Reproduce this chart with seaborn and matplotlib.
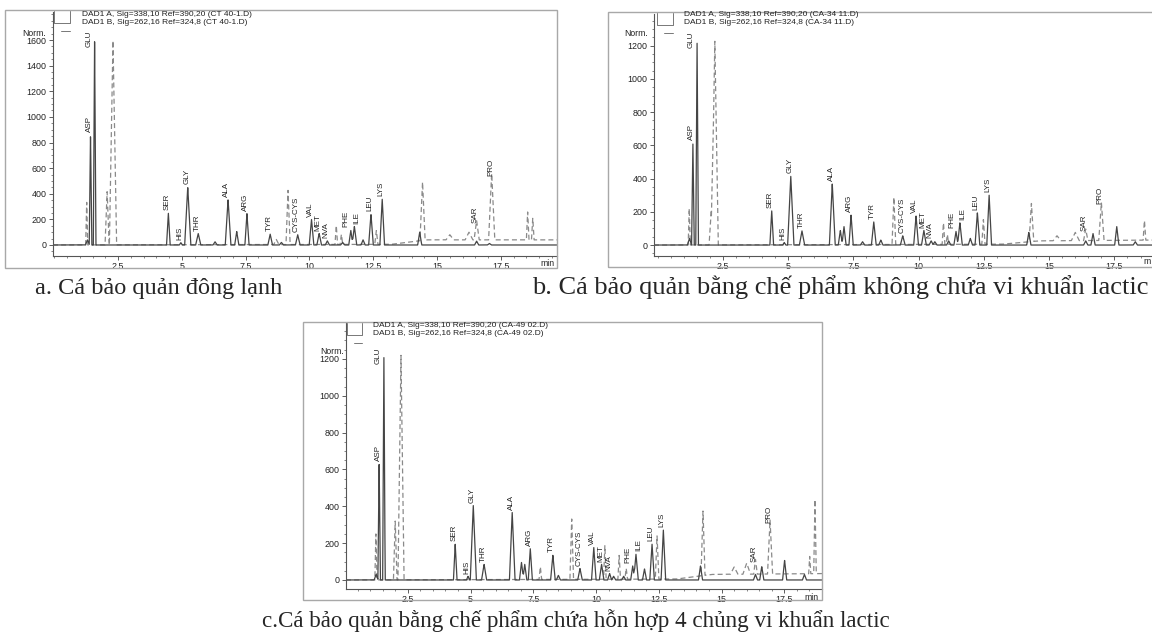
import numpy as np
import pandas as pd
import matplotlib
matplotlib.use("Agg")
import matplotlib.pyplot as plt
import seaborn as sns
from matplotlib.ticker import MultipleLocator
from matplotlib.patches import Rectangle
from matplotlib.lines import Line2D

# ---------------- data ----------------
AMINO = ["ASP", "GLU", "SER", "HIS", "GLY", "THR", "ALA", "ARG", "TYR",
         "CYS-CYS", "VAL", "MET", "NVA", "PHE", "ILE", "LEU", "LYS"]
AMINO_B = ["SAR", "PRO"]
AMINO_W = [0.05, 0.05, 0.07, 0.06, 0.12, 0.10, 0.11, 0.08, 0.09,
           0.09, 0.09, 0.09, 0.08, 0.08, 0.09, 0.09, 0.09]

X_TICKS = [2.5, 5, 7.5, 10, 12.5, 15, 17.5]
X_TICK_LABELS = ["2.5", "5", "7.5", "10", "12.5", "15", "17.5"]

# panel a  (CT 40-1.D)
a_rt = [1.42, 1.58, 4.47, 4.96, 5.23, 5.64, 6.81, 7.55, 8.46, 9.54, 10.08, 10.38, 10.70, 11.62, 11.76, 12.41, 12.85]
a_h = [860, 1600, 250, 18, 452, 90, 355, 245, 85, 80, 200, 90, 32, 115, 145, 240, 360]
a_other_rt = [1.30, 6.30, 7.15, 8.90, 11.30, 12.10, 14.32, 16.55, 17.05]
a_other_h = [40, 25, 105, 20, 20, 40, 100, 30, 12]
a_B_rt = [1.27, 2.07, 2.30, 8.70, 9.16, 11.05, 11.25, 12.62, 14.43, 15.50, 16.25, 16.55, 17.14, 18.55, 18.75]
a_B_h = [340, 420, 1600, 40, 425, 150, 80, 110, 460, 40, 60, 150, 520, 220, 170]
a_B_w = [0.04, 0.08, 0.14, 0.10, 0.08, 0.05, 0.05, 0.06, 0.10, 0.15, 0.15, 0.10, 0.12, 0.05, 0.05]
a_B_lab = [11, 12]
a_B_base_t = [0, 13.2, 14.6, 19.8]
a_B_base_y = [0, 5, 40, 40]
a_yticks = [0, 200, 400, 600, 800, 1000, 1200, 1400, 1600]

# panel b  (CA-34 11.D)
b_rt = [1.35, 1.51, 4.37, 4.85, 5.10, 5.53, 6.69, 7.41, 8.28, 9.39, 9.90, 10.20, 10.48, 11.43, 11.58, 12.25, 12.70]
b_h = [618, 1230, 207, 15, 415, 85, 370, 181, 139, 56, 175, 88, 25, 83, 135, 195, 300]
b_other_rt = [1.22, 7.00, 7.14, 7.85, 8.55, 10.62, 11.15, 11.98, 14.22, 16.40, 16.68, 17.59, 18.30]
b_other_h = [40, 88, 111, 20, 30, 20, 25, 40, 76, 25, 70, 111, 20]
b_B_rt = [1.21, 2.05, 2.19, 9.05, 10.95, 11.10, 12.48, 14.32, 15.30, 16.00, 16.40, 17.00, 18.65]
b_B_h = [220, 200, 1230, 286, 131, 60, 150, 230, 30, 50, 70, 230, 120]
b_B_w = [0.04, 0.08, 0.13, 0.07, 0.05, 0.05, 0.06, 0.09, 0.15, 0.15, 0.08, 0.10, 0.05]
b_B_lab = [10, 11]
b_B_base_t = [0, 13.2, 14.6, 19.0]
b_B_base_y = [0, 5, 25, 30]
b_yticks = [0, 200, 400, 600, 800, 1000, 1200]

# panel c  (CA-49 02.D)
c_rt = [1.36, 1.55, 4.39, 4.90, 5.11, 5.54, 6.66, 7.38, 8.28, 9.36, 9.91, 10.22, 10.54, 11.46, 11.59, 12.23, 12.68]
c_h = [630, 1210, 195, 20, 404, 85, 367, 171, 135, 62, 176, 85, 35, 76, 140, 195, 273]
c_other_rt = [1.24, 7.03, 7.16, 8.50, 10.70, 11.10, 11.93, 14.16, 16.35, 16.60, 17.51, 18.30]
c_other_h = [30, 95, 85, 25, 20, 20, 60, 76, 30, 73, 107, 30]
c_B_rt = [1.23, 2.00, 2.23, 7.78, 9.03, 10.35, 10.92, 11.20, 12.43, 14.26, 15.50, 16.00, 16.35, 16.93, 18.51, 18.72]
c_B_h = [250, 320, 1220, 70, 330, 185, 130, 60, 236, 353, 40, 60, 80, 295, 95, 404]
c_B_w = [0.04, 0.07, 0.12, 0.05, 0.07, 0.05, 0.05, 0.05, 0.07, 0.08, 0.15, 0.15, 0.07, 0.10, 0.04, 0.05]
c_B_lab = [12, 13]
c_B_base_t = [0, 13.2, 14.6, 19.3]
c_B_base_y = [0, 5, 30, 35]
c_yticks = [0, 200, 400, 600, 800, 1000, 1200]

FILES = ["CT 40-1.D", "CA-34 11.D", "CA-49 02.D"]
CAPTIONS = ["a. Cá bảo quản đông lạnh",
            "b. Cá bảo quản bằng chế phẩm không chứa vi khuẩn lactic",
            "c.Cá bảo quản bằng chế phẩm chứa hỗn hợp 4 chủng vi khuẩn lactic"]

# ---------------- style ----------------
sns.set_style("ticks")
plt.rcParams["font.family"] = ["Liberation Sans", "DejaVu Sans"]

W, H = 1152, 636
fig = plt.figure(figsize=(W / 100, H / 100), dpi=100)


def fx(x):
    return x / W


def fy(y):
    return 1 - y / H


def trace(t, rts, hs, ws, bt, by):
    y = np.interp(t, bt, by)
    for r, h, w in zip(rts, hs, ws):
        y = y + h * np.clip(1 - np.abs(t - r) / w, 0, None)
    return y


panels = [
    dict(frame=(5, 10, 557, 268), axes=(53, 12, 557, 256), xlim=(-0.05, 19.7), ylim=(-86, 1819),
         rt=a_rt, h=a_h, ort=a_other_rt, oh=a_other_h, brt=a_B_rt, bh=a_B_h, bw=a_B_w, blab=a_B_lab,
         bbt=a_B_base_t, bby=a_B_base_y, yt=a_yticks, file=FILES[0],
         norm=(22, 33), legx=82, legy=(15, 23), box=(54, 11, 70, 23), mint="min", minx=540, miny=263),
    dict(frame=(608, 12, 1160, 267), axes=(654, 14, 1152, 256), xlim=(-0.14, 18.94), ylim=(-66, 1391),
         rt=b_rt, h=b_h, ort=b_other_rt, oh=b_other_h, brt=b_B_rt, bh=b_B_h, bw=b_B_w, blab=b_B_lab,
         bbt=b_B_base_t, bby=b_B_base_y, yt=b_yticks, file=FILES[1],
         norm=(624, 34), legx=684, legy=(15, 23), box=(657, 13, 673, 25), mint="m", minx=1143, miny=262),
    dict(frame=(303, 322, 822, 600), axes=(346, 323, 822, 589), xlim=(0.04, 19.0), ylim=(-49, 1395),
         rt=c_rt, h=c_h, ort=c_other_rt, oh=c_other_h, brt=c_B_rt, bh=c_B_h, bw=c_B_w, blab=c_B_lab,
         bbt=c_B_base_t, bby=c_B_base_y, yt=c_yticks, file=FILES[2],
         norm=(320, 352), legx=373, legy=(325, 333), box=(347, 323, 362, 335), mint="min", minx=804, miny=597),
]

LABEL_FS = 5.8
LABEL_OFFSET = {"GLU": (-4, -5), "PHE": (-3.2, 2), "ILE": (2.0, 2)}

for p in panels:
    x0, y0, x1, y1 = p["frame"]
    fig.add_artist(Rectangle((fx(x0), fy(y1)), fx(x1 - x0), (y1 - y0) / H,
                             transform=fig.transFigure, fill=False, ec="#a8a8a8", lw=1.0))
    l, t, r, b = p["axes"]
    ax = fig.add_axes([fx(l), fy(b), fx(r - l), (b - t) / H])
    ax.patch.set_alpha(0)

    tg = np.linspace(p["xlim"][0], p["xlim"][1], 8000)
    a_rts = list(p["rt"]) + list(p["ort"])
    a_hs = list(p["h"]) + list(p["oh"])
    a_ws = AMINO_W + [0.08] * len(p["ort"])
    yA = trace(tg, a_rts, a_hs, a_ws, [0, 20], [0, 0])
    yB = trace(tg, p["brt"], p["bh"], p["bw"], p["bbt"], p["bby"])
    n = len(tg)
    df = pd.DataFrame({"t": np.concatenate([tg, tg]),
                       "signal": np.concatenate([yB, yA]),
                       "channel": ["B"] * n + ["A"] * n})
    sns.lineplot(data=df, x="t", y="signal", hue="channel", style="channel",
                 hue_order=["B", "A"], style_order=["B", "A"],
                 palette={"A": "#454545", "B": "#8a8a8a"},
                 dashes={"A": "", "B": (4, 2.5)},
                 estimator=None, sort=False, legend=False, lw=0.9, ax=ax)

    for name, rr, hh in zip(AMINO, p["rt"], p["h"]):
        off = LABEL_OFFSET.get(name, (-0.8, 2))
        ax.annotate(name, (rr, hh), xytext=off, textcoords="offset points",
                    rotation=90, ha="center", va="bottom", fontsize=LABEL_FS, color="#222222")
    for name, idx in zip(AMINO_B, p["blab"]):
        ax.annotate(name, (p["brt"][idx], p["bh"][idx]), xytext=(-0.8, 2), textcoords="offset points",
                    rotation=90, ha="center", va="bottom", fontsize=LABEL_FS, color="#222222")

    ax.set_xlim(*p["xlim"])
    ax.set_ylim(*p["ylim"])
    ax.set_xticks(X_TICKS)
    ax.set_xticklabels(X_TICK_LABELS)
    ax.set_yticks(p["yt"])
    ax.set_yticklabels([str(v) for v in p["yt"]])
    ax.xaxis.set_minor_locator(MultipleLocator(0.5))
    ax.yaxis.set_minor_locator(MultipleLocator(50))
    ax.tick_params(which="major", length=3, width=0.6, labelsize=6.4, colors="#444444", pad=1.5,
                   labelcolor="#222222")
    ax.tick_params(which="minor", length=1.5, width=0.5, colors="#555555")
    ax.set_xlabel("")
    ax.set_ylabel("")
    for s in ["top", "right"]:
        ax.spines[s].set_visible(False)
    for s in ["left", "bottom"]:
        ax.spines[s].set_color("#555555")
        ax.spines[s].set_linewidth(0.8)

    # header / legend of the instrument printout
    nx, ny = p["norm"]
    fig.text(fx(nx), fy(ny), "Norm.", fontsize=6.2, color="#222222", va="center", ha="left")
    ly1, ly2 = p["legy"]
    fig.text(fx(p["legx"]), fy(ly1), "DAD1 A, Sig=338,10 Ref=390,20 (%s)" % p["file"],
             fontsize=6, color="#222222", va="center", ha="left")
    fig.text(fx(p["legx"]), fy(ly2), "DAD1 B, Sig=262,16 Ref=324,8 (%s)" % p["file"],
             fontsize=6, color="#222222", va="center", ha="left")
    bx0, by0, bx1, by1 = p["box"]
    fig.add_artist(Line2D([fx(bx0), fx(bx0), fx(bx1), fx(bx1)], [fy(by0), fy(by1), fy(by1), fy(by0)],
                          transform=fig.transFigure, color="#777777", lw=0.7))
    fig.add_artist(Line2D([fx(bx0 + 7), fx(bx1)], [fy(by1 + 8), fy(by1 + 8)],
                          transform=fig.transFigure, color="#777777", lw=0.7))
    fig.text(fx(p["minx"]), fy(p["miny"]), p["mint"], fontsize=6.2, color="#222222", va="center", ha="left")

# captions
fig.text(fx(35), fy(294), CAPTIONS[0], fontsize=17.5, family="Liberation Serif", va="baseline", ha="left")
fig.text(fx(532), fy(294), CAPTIONS[1], fontsize=19.0, family="Liberation Serif", va="baseline", ha="left")
fig.text(fx(576), fy(627), CAPTIONS[2], fontsize=16.6, family="Liberation Serif", va="baseline", ha="center")

fig.savefig("out.png", dpi=100)
